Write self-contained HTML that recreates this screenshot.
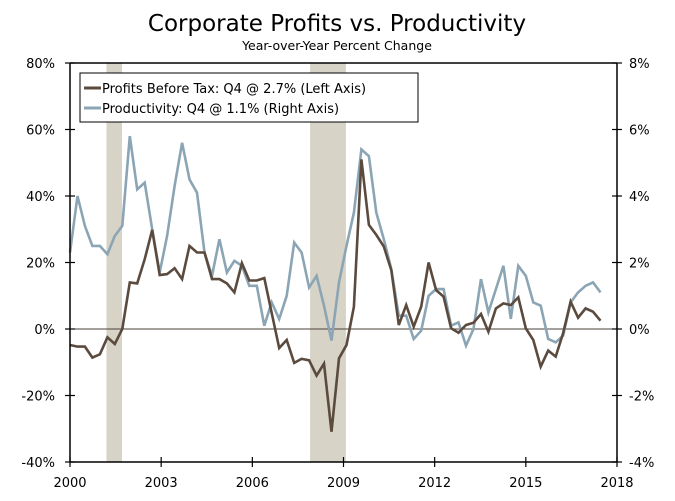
<!DOCTYPE html>
<html><head><meta charset="utf-8"><style>
body{margin:0;background:#fff;}
svg text{font-family:"DejaVu Sans","Liberation Sans",sans-serif;}
</style></head><body>
<svg id="chart" width="675" height="496" viewBox="0 0 675 496">
<text x="337" y="31" text-anchor="middle" font-size="23" fill="#000">Corporate Profits vs. Productivity</text>
<text x="337" y="50" text-anchor="middle" font-size="12.5" fill="#000">Year-over-Year Percent Change</text>
<g id="plot"></g>
</svg>
<script>
const profits=[-4.8,-5.3,-5.3,-8.6,-7.6,-2.5,-4.5,0,14,13.7,21,29.8,16.2,16.5,18.3,15,25,23,23,15,15,13.7,11,19.8,14.6,14.6,15.3,4.8,-5.7,-3.3,-10.2,-9,-9.4,-14,-10.4,-30.9,-8.8,-4.8,6.7,51,31.3,28.3,24.8,17.7,1.2,7.2,0.7,6.7,20,11.7,9.7,0.2,-1.1,1.2,1.9,4.5,-0.8,6.2,7.7,7.2,9.5,0.2,-3.3,-11.3,-6.5,-8.3,-1.3,8.2,3.4,6.2,5.2,2.5];
const productivity=[2.3,4.0,3.1,2.5,2.5,2.25,2.8,3.1,5.8,4.2,4.4,3.0,1.7,2.8,4.3,5.6,4.5,4.1,2.3,1.6,2.7,1.7,2.05,1.9,1.3,1.3,0.1,0.8,0.3,1.0,2.6,2.3,1.25,1.6,0.7,-0.35,1.4,2.5,3.5,5.4,5.2,3.5,2.7,1.8,0.4,0.4,-0.3,-0.05,1.0,1.2,1.2,0.1,0.2,-0.5,0,1.5,0.5,1.2,1.9,0.3,1.9,1.6,0.8,0.7,-0.3,-0.4,-0.2,0.8,1.1,1.3,1.4,1.1];
const leftTicks=[80,60,40,20,0,-20,-40];
const rightTicks=[8,6,4,2,0,-2,-4];
const yearTicks=[2000,2003,2006,2009,2012,2015,2018];
const recessions=[[2001.2,2001.71],[2007.9,2009.08]];
const X0=70,X1=617,Y0=63,Y1=462;
const yearX=y=>X0+(y-2000)*(X1-X0)/18;
const idxX=i=>X0+i*(600.5-X0)/71;
const yL=v=>Y1-(v+40)*(Y1-Y0)/120;
const yR=v=>Y1-(v+4)*(Y1-Y0)/12;
const NS="http://www.w3.org/2000/svg";
const g=document.getElementById('plot');
function mk(tag,attrs){const e=document.createElementNS(NS,tag);for(const k in attrs)e.setAttribute(k,attrs[k]);g.appendChild(e);return e;}
recessions.forEach(r=>{
 const e=mk('rect',{x:yearX(r[0]),y:Y0,width:yearX(r[1])-yearX(r[0]),height:Y1-Y0,fill:'#d8d3c7'});
 
 
});
let z=mk('line',{x1:X0,x2:X1,y1:yL(0),y2:yL(0),stroke:'#4a4038','stroke-width':1});


function path(data,fy,color,name){
 const d=data.map((v,i)=>(i?'L':'M')+idxX(i).toFixed(1)+','+fy(v).toFixed(1)).join('');
 const e=mk('path',{d:d,fill:'none',stroke:color,'stroke-width':2.6,'stroke-linejoin':'miter'});
 
 
}
path(productivity,yR,'#8ba5b4','productivity-line');
path(profits,yL,'#5b4a3e','profits-line');
[['left-axis',X0,X0,Y0,Y1],['right-axis',X1,X1,Y0,Y1],['x-axis',X0,X1,Y1,Y1],['top-border',X0,X1,Y0,Y0]].forEach(a=>{
 const e=mk('line',{x1:a[1],x2:a[2],y1:a[3],y2:a[4],stroke:'#000','stroke-width':1.5});
 
 
});
leftTicks.forEach(v=>{
 const y=yL(v);
 mk('line',{x1:X0-5,x2:X0+5,y1:y,y2:y,stroke:'#000','stroke-width':1.2});
 const t=mk('text',{x:55,y:y+5,'text-anchor':'end','font-size':13,fill:'#000'});
 t.textContent=v+'%';
 
 
});
rightTicks.forEach(v=>{
 const y=yR(v);
 mk('line',{x1:X1-5,x2:X1+5,y1:y,y2:y,stroke:'#000','stroke-width':1.2});
 const t=mk('text',{x:629,y:y+5,'text-anchor':'start','font-size':13,fill:'#000'});
 t.textContent=v+'%';
 
 
});
yearTicks.forEach(v=>{
 const x=yearX(v);
 mk('line',{x1:x,x2:x,y1:Y1-5,y2:Y1+5,stroke:'#000','stroke-width':1.2});
 const t=mk('text',{x:x,y:487,'text-anchor':'middle','font-size':13,fill:'#000'});
 t.textContent=v;
 
 
});
const lg=mk('rect',{x:80,y:73,width:338,height:49,fill:'#fff',stroke:'#000','stroke-width':1});


[['Profits Before Tax: Q4 @ 2.7% (Left Axis)','#5b4a3e',88],['Productivity: Q4 @ 1.1% (Right Axis)','#8ba5b4',108]].forEach(l=>{
 mk('line',{x1:84,x2:101,y1:l[2],y2:l[2],stroke:l[1],'stroke-width':3});
 const t=mk('text',{x:102,y:l[2]+5,'font-size':13,fill:'#000'});
 t.textContent=l[0];
 
 
});
</script>
</body></html>
